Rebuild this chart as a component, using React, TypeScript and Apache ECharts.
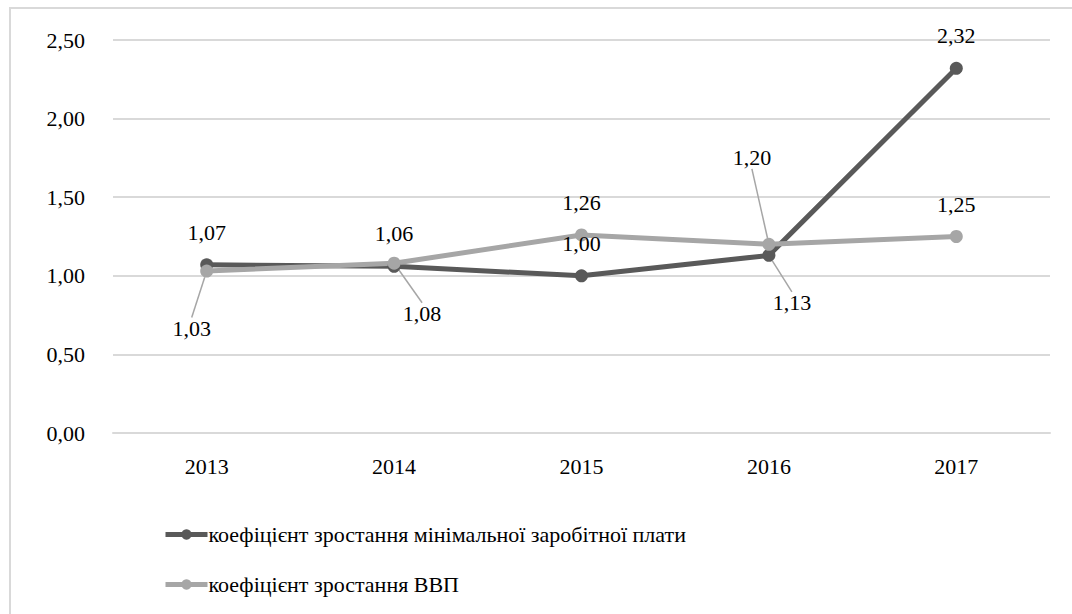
import React, { useEffect, useRef } from "react";
import * as echarts from "echarts";

const years = ["2013", "2014", "2015", "2016", "2017"];
const minWage = [1.07, 1.06, 1.0, 1.13, 2.32];
const gdp = [1.03, 1.08, 1.26, 1.2, 1.25];
const seriesNames = [
  "коефіцієнт зростання мінімальної заробітної плати",
  "коефіцієнт зростання ВВП",
];

// label displacement (style only), relative to default "top" placement
const minWageLabelShift: [number, number][] = [[0, 0], [0, 0], [0, 0], [23, 80], [0, 0]];
const gdpLabelShift: [number, number][] = [[-15, 90], [28, 83], [0, 0], [-17, -54], [0, 0]];

const FONT = "Liberation Serif";
const fmt = (v: number) => v.toFixed(2).replace(".", ",");

export default function App() {
  const ref = useRef<HTMLDivElement>(null);
  useEffect(() => {
    if (!ref.current) return;
    const chart = echarts.init(ref.current, null, { renderer: "svg" });
    const mkSeries = (name: string, values: number[], color: string, shifts: [number, number][]) => ({
      name,
      type: "line",
      data: values.map((v, i) => ({
        value: v,
        labelLine: { show: shifts[i][0] !== 0 || shifts[i][1] !== 0 },
      })),
      symbol: "circle",
      symbolSize: 13,
      lineStyle: { color, width: 5 },
      itemStyle: { color },
      label: {
        show: true,
        position: "top",
        distance: 15,
        color: "#000",
        fontFamily: FONT,
        fontSize: 22,
        formatter: (p: any) => fmt(p.value),
      },
      labelLine: { show: false, lineStyle: { color: "#a6a6a6", width: 1.5 } },
      labelLayout: (p: any) => {
        const s = shifts[p.dataIndex];
        return { dx: s[0], dy: s[1] };
      },
    });
    chart.setOption({
      animation: false,
      backgroundColor: "#fff",
      textStyle: { fontFamily: FONT, fontSize: 22 },
      graphic: [
        {
          type: "rect",
          shape: { x: 10, y: 8, width: 1200, height: 800 },
          style: { fill: "none", stroke: "#d9d9d9", lineWidth: 2 },
          silent: true,
        },
      ],
      grid: { left: 113, right: 22, top: 40, bottom: 181 },
      xAxis: {
        type: "category",
        data: years,
        boundaryGap: true,
        axisLine: { show: true, lineStyle: { color: "#d9d9d9", width: 2 } },
        axisTick: { show: false },
        axisLabel: { color: "#000", fontFamily: FONT, fontSize: 22, margin: 22 },
      },
      yAxis: {
        type: "value",
        min: 0,
        max: 2.5,
        interval: 0.5,
        axisLine: { show: false },
        axisTick: { show: false },
        splitLine: { lineStyle: { color: "#d9d9d9", width: 2 } },
        axisLabel: { color: "#000", fontFamily: FONT, fontSize: 22, margin: 28, formatter: (v: number) => fmt(v) },
      },
      legend: {
        orient: "vertical",
        left: 158,
        top: 517,
        itemWidth: 42,
        itemHeight: 13,
        itemGap: 25,
        lineStyle: { width: 5 },
        textStyle: { color: "#000", fontFamily: FONT, fontSize: 22, lineHeight: 25, padding: [0, 0, 0, -4] },
        data: seriesNames,
      },
      series: [
        mkSeries(seriesNames[0], minWage, "#595959", minWageLabelShift),
        mkSeries(seriesNames[1], gdp, "#a6a6a6", gdpLabelShift),
      ],
    });
    return () => chart.dispose();
  }, []);
  return (
    <>
      <style>{`#chartbox svg text { font-family: "Liberation Serif", serif !important; font-size: 22px !important; }`}</style>
      <div
        id="chartbox"
        ref={ref}
        style={{ position: "absolute", left: 0, top: 0, width: 1072, height: 614 }}
      />
    </>
  );
}
